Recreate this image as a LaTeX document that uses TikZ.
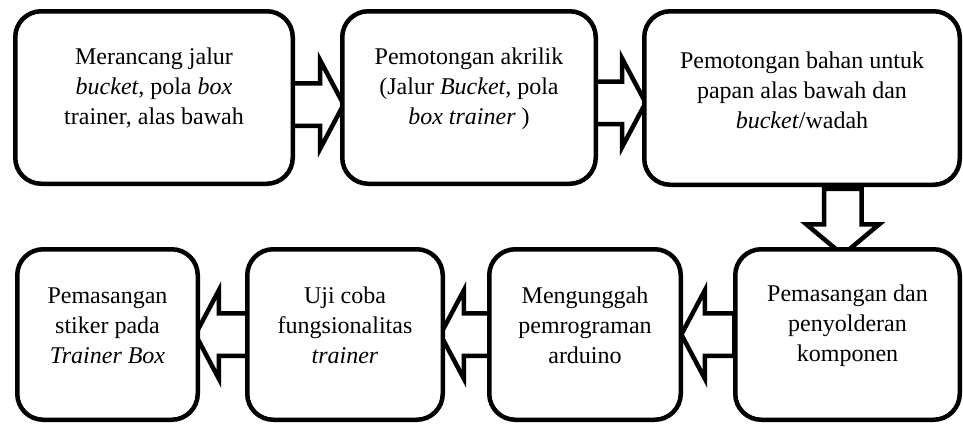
\documentclass[tikz,border=0pt]{standalone}
\usepackage{fontspec}
\setmainfont{Liberation Serif}
\usetikzlibrary{shapes.arrows, calc, backgrounds}

\begin{document}
\begin{tikzpicture}[x=1pt, y=-1pt,
    stepbox/.style={rectangle, draw, fill=white, line width=4.5pt, rounded corners=26pt, inner sep=0pt},
    steptext/.style={align=center, font=\fontsize{24}{30}\selectfont, inner sep=0pt},
    blockarrow/.style={single arrow, draw, fill=white, line width=4.5pt, inner xsep=0pt, inner ysep=19pt,
        minimum width=0pt, minimum height=53pt, single arrow tip angle=124,
        single arrow head extend=23pt}]
    \useasboundingbox (0,0) rectangle (963,423);

    % top row
    \node[stepbox, minimum width=277.5pt, minimum height=172.5pt] (b1) at (154,97.5) {};
    \node[stepbox, minimum width=253.5pt, minimum height=172.5pt] (b2) at (469,97.5) {};
    \node[stepbox, minimum width=315.5pt, minimum height=173.5pt] (b3) at (802,98) {};
    % bottom row
    \node[stepbox, minimum width=224.5pt, minimum height=170.5pt] (b4) at (847.5,334.5) {};
    \node[stepbox, minimum width=191.5pt, minimum height=170.5pt] (b5) at (585,334.5) {};
    \node[stepbox, minimum width=195.5pt, minimum height=170.5pt] (b6) at (345,334.5) {};
    \node[stepbox, minimum width=180.5pt, minimum height=170.5pt] (b7) at (107.5,334.5) {};

    \node[steptext] (t1) at ($(b1.center) + (0,-9)$) {Merancang jalur\\\textit{bucket}, pola \textit{box}\\trainer, alas bawah};
    \node[steptext] (t2) at ($(b2.center) + (0,-9)$) {Pemotongan akrilik\\(Jalur \textit{Bucket,} pola\\\textit{box trainer} )};
    \node[steptext] (t3) at ($(b3.center) + (0,-8)$) {Pemotongan bahan untuk\\papan alas bawah dan\\\textit{bucket}/wadah};
    \node[steptext] (t4) at ($(b4.center) + (0,-9)$) {Pemasangan dan\\penyolderan\\komponen};
    \node[steptext] (t5) at ($(b5.center) + (0,-9)$) {Mengunggah\\pemrograman\\arduino};
    \node[steptext] (t6) at ($(b6.center) + (0,-9)$) {Uji coba\\fungsionalitas\\\textit{trainer}};
    \node[steptext] (t7) at ($(b7.center) + (0,-9)$) {Pemasangan\\stiker pada\\\textit{Trainer Box}};

    % block arrows, tails tucked behind the boxes
    \coordinate (down) at ($(b3.south)!0.5!(b4.north) + (18,-3)$);
    \begin{scope}[on background layer]
    \node[blockarrow] (a1) at ($(b1.east)!0.5!(b2.west) + (-6,7)$) {};
    \node[blockarrow] (a2) at ($(b2.east)!0.5!(b3.west) + (-6.5,5)$) {};
    \node[blockarrow, rotate=-90, inner ysep=16.5pt, single arrow head extend=17.5pt,
        minimum height=66pt, single arrow tip angle=100] (a3) at (down) {};
    \node[blockarrow, rotate=180] (a4) at ($(b4.west)!0.5!(b5.east) + (5.5,0)$) {};
    \node[blockarrow, rotate=180] (a5) at ($(b5.west)!0.5!(b6.east) + (6.5,0)$) {};
    \node[blockarrow, rotate=180] (a6) at ($(b6.west)!0.5!(b7.east) + (5,0)$) {};
    \end{scope}
\end{tikzpicture}
\end{document}
